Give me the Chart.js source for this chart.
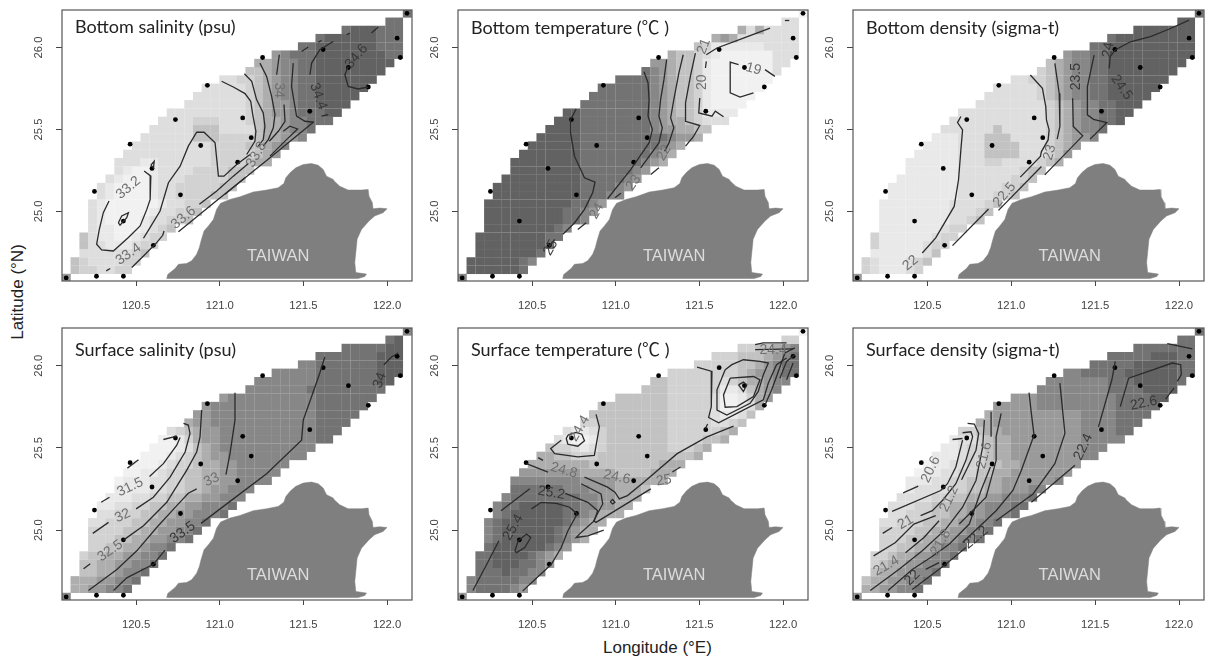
<!DOCTYPE html>
<html>
<head>
<meta charset="utf-8">
<title>Hydrography maps</title>
<script src="https://cdn.jsdelivr.net/npm/chart.js@4/dist/chart.umd.min.js"></script>
<style>
    html, body { margin: 0; padding: 0; background: #fff; }
    body { position: relative; width: 1207px; height: 660px; overflow: hidden; }
    canvas { position: absolute; filter: blur(0.3px); }
    .axisTitle { position: absolute; font: 17px "Liberation Sans", sans-serif; color: #222; white-space: nowrap; }
</style>
</head>
<body>
<div class="axisTitle" style="left:603px; top:638px;">Longitude (°E)</div>
<div class="axisTitle" style="left:18px; top:292px; transform: translate(-50%, -50%) rotate(-90deg);">Latitude (°N)</div>
<script>
const lonTicks = [120.5, 121.0, 121.5, 122.0];
const latTicks = [25.0, 25.5, 26.0];

// interpolation grid of the maps, cell centres
const gridLon = [120.082, 120.134, 120.187, 120.239, 120.291, 120.343, 120.396, 120.448, 120.500, 120.552,
    120.605, 120.657, 120.709, 120.761, 120.814, 120.866, 120.918, 120.970, 121.023, 121.075,
    121.127, 121.179, 121.232, 121.284, 121.336, 121.388, 121.441, 121.493, 121.545, 121.598,
    121.650, 121.702, 121.754, 121.807, 121.859, 121.911, 121.963, 122.016, 122.068, 122.120];
const gridLat = [24.594, 24.644, 24.695, 24.745, 24.796, 24.846, 24.897, 24.947, 24.998, 25.048, 25.099,
    25.149, 25.200, 25.250, 25.301, 25.351, 25.402, 25.452, 25.502, 25.553, 25.603, 25.654,
    25.704, 25.755, 25.805, 25.856, 25.906, 25.957, 26.007, 26.058, 26.108, 26.158, 26.209];
const rowFirstCol = [0, 1, 1, 2, 2, 2, 3, 3, 3, 3, 4, 4, 5, 6, 6, 7, 8, 9, 10, 11, 12, 14, 15, 16, 18, 21, 22, 24, 27, 29, 32, 37, 39];

// shade class of every cell, south to north, 0 light .. 9 dark
const bottomSalinityCells = ["6", "4332233", "43222233", "22222234", "422111233", "4211001233", "2110001234",
    "210000122334", "2100000122334", "21000000122334", "210000122333344", "2100001223333344",
    "2100012223333344", "2100122223333444", "222112222223333455", "222222222233333456",
    "222222222333344567", "2222224443333455667", "2222244422224556778",
    "22223332223455677888", "22222222234566788899", "2222222345667889999", "2222223456778899999",
    "2222234567788999999", "223345677889999999", "4456778899999999", "5567788999999999",
    "678889999999988", "889999999888", "8999999888", "8999888", "88", "8"];
const bottomTemperatureCells = ["7", "9999998", "99999987", "99999998", "999999998", "9999999988", "9999999987",
    "999999999887", "9999999998876", "99999999998876", "999999999988877", "9999999999888876",
    "9999999998888876", "9999999988888876", "999999998888888765", "999999988888888765",
    "999999888888888765", "9999988888888887665", "9999888888887665544", "99988888888765543222",
    "99888888887654431111", "8888888876544310000", "8888888765443100000", "8888887654431000000",
    "888876544310000000", "8765443100000002", "6654431000000022",
    "544321000000222", "431111112222", "5652222222", "5252222", "22", "0"];
const bottomDensityCells = ["6", "3211123", "32111234", "11111124", "311111233", "3111111233", "1111111233",
    "111111112234", "1111111122234", "11111111222234", "111111112222334", "1111111122222334",
    "1111111222222334", "1111112222222344", "111111222332222345", "111112224444222346",
    "111122244442223456", "1112224442222345667", "2222224222223456778", "22222222222345677889",
    "22222222223456778899", "2222222234567788999", "2222223456778899999", "2222234567788999999",
    "223345677889999999", "3456778899999999", "4567788999999999", "677889999999999",
    "889999999999", "8999999999", "9999999", "99", "8"];
const surfaceSalinityCells = ["7", "5566778", "55566778", "44556778", "445566778", "3445566778", "3344556778",
    "333445566778", "3333445566778", "22333445566778", "223334455667778", "1122334455667778",
    "1112233445566777", "1111223344566777", "011122334455667777", "001123344556677777",
    "000123345566777777", "0001234566777777777", "0001245677777777777", "00135667777777777788",
    "23456677777777777888", "5667777777777778888", "6677777777777788888", "6777777777777888888",
    "677777777778888888", "7777777888888888", "7777777888888899", "777778888888999",
    "778888888999", "8888888999", "8888899", "89", "7"];
const surfaceTemperatureCells = ["6", "7888876", "78888877", "88898877", "889998876", "8899998765", "8999999876",
    "789999998765", "7899999987655", "78999999987655", "789999998876555", "7889999988776655",
    "7888888887766555", "8888887776665554", "777777776666555555", "666666655554444555",
    "555555544444444555", "5544333444444444445", "4332123444444433345", "21001344444443333445",
    "21123444444433333345", "3344444444333332234", "4444444443333321124", "4444444433333200125",
    "444444333332001356", "4443333331124567", "4433333323455677", "333333334566788",
    "333334456788", "3334445678", "3344567", "33", "0"];
const surfaceDensityCells = ["6", "5566778", "45566778", "45566778", "345566778", "3345566778", "3344556778",
    "333445566778", "3333445566778", "22333445566778", "223334455667778", "2223344556677788",
    "2222334455667778", "1222233445566677", "111223344556666667", "011223344556666666",
    "011223344556666666", "1112334556666666677", "1123345566666666777", "12234556666666677777",
    "33455666666666777788", "5566666666667777888", "5666666666677778888", "6666677777777788888",
    "666777777777888899", "7777777788889999", "7777777888999998", "778888899999988",
    "888889999988", "8888899988", "8888888", "88", "8"];

const stations = [[120.082, 24.594], [120.263, 24.604], [120.424, 24.604], [120.603, 24.793], [120.424, 24.941],
    [120.251, 25.122], [120.595, 25.262], [120.765, 25.101], [120.464, 25.410], [120.886, 25.402],
    [120.735, 25.560], [120.926, 25.769], [121.107, 25.300], [121.188, 25.450], [121.137, 25.570],
    [121.256, 25.939], [121.538, 25.611], [121.618, 25.988], [121.769, 25.878], [121.888, 25.759],
    [122.060, 26.057], [122.079, 25.939], [122.119, 26.209]];

const taiwanOutline = [[120.683, 24.590], [120.689, 24.615], [120.733, 24.651], [120.753, 24.677], [120.802, 24.682],
    [120.832, 24.698], [120.862, 24.738], [120.878, 24.779], [120.888, 24.819], [120.906, 24.880],
    [120.932, 24.911], [120.962, 24.951], [120.981, 25.012], [121.005, 25.049], [121.061, 25.073],
    [121.121, 25.089], [121.200, 25.118], [121.280, 25.130], [121.349, 25.144], [121.383, 25.170],
    [121.395, 25.205], [121.423, 25.239], [121.455, 25.266], [121.499, 25.286], [121.548, 25.292],
    [121.588, 25.282], [121.618, 25.256], [121.638, 25.215], [121.678, 25.195], [121.684, 25.185],
    [121.717, 25.154], [121.767, 25.130], [121.847, 25.130], [121.887, 25.134], [121.892, 25.093],
    [121.912, 25.053], [121.916, 25.016], [121.956, 25.020], [122.000, 25.016], [121.976, 24.992],
    [121.926, 24.972], [121.892, 24.941], [121.847, 24.890], [121.821, 24.830], [121.813, 24.748],
    [121.807, 24.688], [121.813, 24.627], [121.877, 24.617], [121.867, 24.602], [121.827, 24.590],
    [120.683, 24.590]];
const riverMouth = [[121.383, 25.170], [121.419, 25.164], [121.435, 25.138]];

const bottomSalinityLines = [
    [[120.548, 25.246], [120.588, 25.215], [120.584, 25.073], [120.564, 25.012], [120.524, 24.911], [120.454, 24.840], [120.364, 24.758], [120.294, 24.765], [120.264, 24.799], [120.280, 24.890], [120.304, 24.992], [120.338, 25.063]],
    [[120.394, 24.931], [120.414, 24.972], [120.454, 24.992], [120.444, 24.961], [120.404, 24.915], [120.394, 24.931]],
    [[120.588, 25.282], [120.608, 25.306], [120.604, 25.266], [120.588, 25.282]],
    [[120.544, 24.836], [120.574, 24.886], [120.643, 25.002], [120.693, 25.175], [120.763, 25.276], [120.812, 25.398], [120.862, 25.483], [120.906, 25.483], [120.972, 25.418], [120.982, 25.317], [120.992, 25.215], [121.025, 25.215], [121.101, 25.286], [121.181, 25.347]],
    [[120.321, 24.637], [120.345, 24.651]],
    [[120.474, 24.657], [120.544, 24.728], [120.623, 24.809], [120.659, 24.854], [120.667, 24.880]],
    [[120.753, 24.876], [120.982, 25.067], [121.280, 25.311], [121.559, 25.544]],
    [[120.878, 25.043], [120.982, 25.124], [121.081, 25.215], [121.171, 25.292]],
    [[121.031, 25.104], [121.151, 25.205]],
    [[121.384, 25.652], [121.390, 25.550], [121.350, 25.489], [121.296, 25.428]],
    [[121.380, 25.489], [121.419, 25.520], [121.465, 25.503], [121.399, 25.438], [121.300, 25.337]],
    [[121.011, 25.794], [121.081, 25.759], [121.151, 25.719], [121.185, 25.672], [121.197, 25.591], [121.216, 25.489], [121.210, 25.428], [121.161, 25.347]],
    [[121.147, 25.840], [121.191, 25.794], [121.220, 25.682], [121.260, 25.601], [121.270, 25.520], [121.260, 25.438], [121.230, 25.398]],
    [[121.240, 25.905], [121.280, 25.824], [121.310, 25.702], [121.330, 25.591], [121.320, 25.510], [121.290, 25.438], [121.260, 25.398]],
    [[121.356, 25.956], [121.340, 25.834]],
    [[121.439, 25.905], [121.429, 25.763], [121.449, 25.641], [121.459, 25.581], [121.509, 25.550], [121.563, 25.544]],
    [[121.489, 25.976], [121.529, 26.003]],
    [[121.678, 26.037], [121.598, 25.987], [121.549, 25.905], [121.539, 25.834]],
    [[121.608, 25.581], [121.648, 25.591]],
    [[121.589, 26.033], [121.608, 26.043]],
    [[121.758, 26.078], [121.778, 26.088]],
    [[121.768, 25.885], [121.748, 25.834], [121.768, 25.763], [121.827, 25.747], [121.887, 25.759]],
    [[121.907, 26.088], [121.947, 26.125]]
];
const bottomTemperatureLines = [
    [[120.763, 25.625], [120.730, 25.560], [120.730, 25.479], [120.753, 25.337], [120.813, 25.205], [120.876, 25.179], [120.862, 25.114], [120.813, 25.012], [120.753, 24.929], [120.684, 24.860]],
    [[120.635, 24.829], [120.599, 24.779]],
    [[121.169, 25.852], [121.193, 25.784], [121.199, 25.682], [121.193, 25.581], [121.219, 25.499], [121.199, 25.418], [121.090, 25.256], [120.951, 25.077]],
    [[120.773, 24.890], [120.823, 24.931]],
    [[120.995, 25.083], [121.031, 25.110]],
    [[121.304, 25.926], [121.288, 25.804], [121.268, 25.682], [121.258, 25.581], [121.278, 25.510], [121.258, 25.418], [121.149, 25.266]],
    [[121.403, 25.956], [121.377, 25.844], [121.347, 25.682], [121.328, 25.570], [121.347, 25.510], [121.318, 25.418], [121.292, 25.367]],
    [[121.209, 25.225], [121.258, 25.266]],
    [[121.476, 25.966], [121.446, 25.824], [121.417, 25.662], [121.417, 25.550], [121.502, 25.524], [121.466, 25.459], [121.417, 25.398]],
    [[121.922, 26.119], [121.763, 26.058], [121.605, 25.997], [121.541, 25.956]],
    [[121.541, 25.915], [121.536, 25.875]],
    [[121.502, 25.692], [121.496, 25.601], [121.575, 25.581], [121.595, 25.611], [121.644, 25.577]],
    [[121.734, 25.895], [121.684, 25.911], [121.684, 25.723], [121.743, 25.698], [121.823, 25.723]],
    [[121.892, 25.865], [121.951, 25.824]],
    [[122.011, 26.165], [122.037, 26.165]]
];
const bottomDensityLines = [
    [[120.700, 25.579], [120.680, 25.542], [120.710, 25.497], [120.700, 25.376], [120.686, 25.193], [120.660, 25.030], [120.550, 24.838], [120.470, 24.746]],
    [[120.650, 24.791], [120.865, 25.014]],
    [[120.924, 25.006], [121.180, 25.274]],
    [[121.114, 25.832], [121.186, 25.751], [121.206, 25.639], [121.210, 25.558], [121.226, 25.497], [121.220, 25.436], [121.180, 25.365], [121.174, 25.335], [121.054, 25.209]],
    [[121.260, 25.903], [121.286, 25.721], [121.290, 25.518], [121.274, 25.441]],
    [[121.366, 25.690], [121.370, 25.518], [121.426, 25.461], [121.200, 25.223]],
    [[121.494, 25.954], [121.454, 25.761], [121.454, 25.589], [121.490, 25.562], [121.570, 25.542], [121.470, 25.441]],
    [[122.060, 26.167], [121.950, 26.116], [121.830, 26.066], [121.710, 26.035], [121.620, 25.985], [121.590, 25.944], [121.584, 25.873]]
];
const surfaceSalinityLines = [
    [[120.448, 25.377], [120.514, 25.428]],
    [[120.663, 25.551], [120.743, 25.571]],
    [[120.580, 25.326], [120.663, 25.404], [120.743, 25.516], [120.763, 25.563]],
    [[120.291, 25.169], [120.341, 25.200]],
    [[120.241, 24.980], [120.335, 25.047]],
    [[120.500, 25.129], [120.603, 25.200], [120.703, 25.322], [120.793, 25.475], [120.822, 25.588], [120.812, 25.639], [120.783, 25.649]],
    [[120.186, 24.765], [120.226, 24.796]],
    [[120.424, 24.939], [120.544, 25.027], [120.683, 25.169], [120.802, 25.363], [120.862, 25.475], [120.882, 25.567], [120.892, 25.730]],
    [[120.215, 24.633], [120.385, 24.761], [120.504, 24.874], [120.623, 25.016], [120.743, 25.149], [120.812, 25.224], [120.862, 25.251]],
    [[121.037, 25.337], [121.061, 25.465], [121.091, 25.669], [121.091, 25.836]],
    [[120.365, 24.633], [120.444, 24.710], [120.603, 24.792], [120.673, 24.878]],
    [[120.888, 25.041], [121.081, 25.190], [121.280, 25.343], [121.489, 25.547], [121.499, 25.669], [121.549, 25.812], [121.598, 25.955], [121.628, 26.053]],
    [[121.981, 26.006], [122.026, 26.053], [122.066, 26.077]]
];
const surfaceTemperatureLines = [
    [[120.466, 25.404], [120.595, 25.353]],
    [[120.536, 25.441], [120.565, 25.424]],
    [[120.793, 25.282], [120.912, 25.220], [120.922, 25.159], [120.868, 25.057], [120.882, 25.047], [121.209, 25.251]],
    [[121.338, 25.353], [121.387, 25.384]],
    [[120.813, 25.322], [120.951, 25.261], [120.995, 25.231], [121.021, 25.190], [121.070, 25.210], [121.169, 25.292], [121.367, 25.465], [121.545, 25.567], [121.704, 25.632]],
    [[120.314, 25.118], [120.486, 25.251]],
    [[120.698, 25.224], [120.833, 25.169], [120.892, 25.118], [120.872, 25.057], [120.793, 24.986], [120.763, 24.955], [120.833, 24.965], [120.928, 25.000]],
    [[120.146, 24.633], [120.229, 24.792], [120.302, 24.935]],
    [[120.496, 25.129], [120.555, 25.169], [120.645, 25.163], [120.724, 25.139], [120.769, 25.098], [120.714, 24.996], [120.674, 24.894], [120.615, 24.792], [120.496, 24.680], [120.443, 24.629]],
    [[120.397, 24.874], [120.417, 24.935], [120.466, 24.976], [120.492, 24.955], [120.456, 24.894], [120.407, 24.863], [120.397, 24.874]],
    [[120.714, 25.577], [120.763, 25.594], [120.797, 25.583], [120.813, 25.543], [120.773, 25.510], [120.714, 25.522], [120.704, 25.557], [120.714, 25.577]],
    [[120.882, 25.704], [120.902, 25.628], [120.872, 25.455], [120.773, 25.445], [120.635, 25.465], [120.611, 25.496], [120.674, 25.547]],
    [[121.734, 25.883], [121.763, 25.900], [121.783, 25.883], [121.763, 25.843], [121.734, 25.883]],
    [[121.684, 25.924], [121.823, 25.934], [121.862, 25.914], [121.823, 25.812], [121.724, 25.751], [121.654, 25.747], [121.644, 25.822], [121.684, 25.924]],
    [[121.654, 25.975], [121.694, 26.006], [121.763, 26.036], [121.862, 26.026], [121.912, 26.016], [121.882, 25.945], [121.852, 25.843], [121.803, 25.771], [121.664, 25.700], [121.605, 25.730], [121.605, 25.853], [121.654, 25.975]],
    [[121.486, 25.991], [121.575, 25.965], [121.571, 25.751], [121.555, 25.685], [121.615, 25.653], [121.724, 25.710], [121.882, 25.792], [121.912, 25.894], [121.961, 26.006], [122.021, 26.047]],
    [[121.892, 25.761], [121.932, 25.853], [121.961, 25.934], [122.011, 26.077], [122.070, 26.108]],
    [[121.981, 25.924], [122.021, 26.026], [122.070, 26.067]],
    [[122.021, 25.914], [122.060, 26.016]],
    [[121.833, 26.128], [121.882, 26.138], [122.021, 26.138]],
    [[121.833, 26.098], [122.060, 26.102]],
    [[120.967, 25.173], [120.981, 25.186], [120.995, 25.169], [120.981, 25.159], [120.967, 25.173]],
    [[121.536, 25.618], [121.549, 25.645]]
];
const surfaceDensityLines = [
    [[120.356, 25.226], [120.446, 25.267]],
    [[120.650, 25.551], [120.710, 25.557]],
    [[120.290, 25.114], [120.580, 25.241], [120.620, 25.282], [120.670, 25.384], [120.710, 25.547]],
    [[120.234, 24.980], [120.290, 25.016]],
    [[120.460, 25.088], [120.530, 25.118], [120.590, 25.180], [120.670, 25.282], [120.730, 25.424], [120.770, 25.567], [120.760, 25.598], [120.710, 25.592]],
    [[120.180, 24.843], [120.310, 24.925], [120.420, 25.037], [120.550, 25.088]],
    [[120.370, 24.863], [120.480, 24.955], [120.570, 25.057]],
    [[120.704, 25.306], [120.790, 25.486], [120.806, 25.588], [120.780, 25.645], [120.740, 25.649]],
    [[120.160, 24.633], [120.330, 24.761], [120.470, 24.874], [120.610, 25.006], [120.710, 25.139], [120.790, 25.302], [120.830, 25.506], [120.840, 25.669]],
    [[120.266, 24.633], [120.410, 24.761], [120.520, 24.833], [120.630, 24.914], [120.750, 25.037], [120.820, 25.241], [120.876, 25.384]],
    [[120.880, 25.567], [120.880, 25.720]],
    [[120.490, 24.761], [120.570, 24.802]],
    [[120.690, 25.037], [120.850, 25.200], [120.910, 25.424], [120.910, 25.567], [120.940, 25.710]],
    [[120.710, 24.925], [120.910, 25.118], [121.010, 25.241], [121.060, 25.363], [121.136, 25.577], [121.120, 25.710], [121.106, 25.836]],
    [[120.410, 24.639], [120.610, 24.792], [120.730, 24.894]],
    [[120.910, 25.057], [121.130, 25.220], [121.260, 25.404], [121.320, 25.588], [121.290, 25.894]],
    [[121.120, 25.169], [121.380, 25.394]],
    [[121.520, 25.628], [121.600, 25.914], [121.620, 26.026]],
    [[121.650, 25.751], [121.700, 25.924], [121.960, 26.016], [122.010, 26.006], [122.014, 25.945], [121.990, 25.904]],
    [[121.970, 25.863], [121.920, 25.796]],
    [[121.930, 26.134], [122.080, 26.102]]
];

// contour labels: text, lon, lat, angle
const bottomSalinityLabels = [["33.2", 120.454, 25.144, -40], ["33.4", 120.454, 24.738, -35], ["33.6", 120.783, 24.961, -40], ["33.8", 121.220, 25.347, -60], ["34", 121.356, 25.739, 90], ["34.4", 121.589, 25.702, 70], ["34.6", 121.817, 25.946, -50]];
const bottomTemperatureLabels = [["19", 121.823, 25.869, 15], ["20", 121.516, 25.788, -90], ["21", 121.526, 26.007, -70], ["22", 121.288, 25.357, -60], ["23", 121.106, 25.175, -55], ["24", 120.886, 25.002, -60], ["25", 120.611, 24.779, -60]];
const bottomDensityLabels = [["22", 120.400, 24.685, -40], ["22.5", 120.960, 25.102, -50], ["23", 121.230, 25.359, -75], ["23.5", 121.386, 25.822, -90], ["24", 121.578, 25.985, -80], ["24.5", 121.658, 25.757, 55]];
const surfaceSalinityLabels = [["31.5", 120.464, 25.261, -25], ["32", 120.420, 25.088, -25], ["32.5", 120.345, 24.874, -35], ["33", 120.952, 25.306, -25], ["33.5", 120.779, 24.986, -35], ["34", 121.957, 25.910, -70]];
const surfaceTemperatureLabels = [["24.4", 120.783, 25.618, -60], ["24.8", 120.690, 25.363, 15], ["24.6", 121.007, 25.322, 12], ["25.2", 120.615, 25.226, 10], ["25.4", 120.387, 25.016, -60], ["25", 121.288, 25.302, -10], ["24.4", 121.941, 26.094, 0]];
const surfaceDensityLabels = [["20.6", 120.520, 25.369, -65], ["21", 120.370, 25.047, -30], ["21.2", 120.630, 25.190, -65], ["21.4", 120.256, 24.782, -30], ["21.6", 120.840, 25.455, -75], ["21.8", 120.580, 24.925, -60], ["22", 120.410, 24.710, -45], ["22.2", 120.790, 24.955, -40], ["22.4", 121.430, 25.506, -65], ["22.6", 121.790, 25.771, -12]];

const shadeColors = ["#f1f1f1", "#e9e9e9", "#dedede", "#d2d2d2", "#c2c2c2", "#aeaeae", "#9a9a9a", "#878787", "#737373", "#626262"];
const titleFont = '18px Lato, "Noto Sans CJK SC", sans-serif';
const tickFont = { family: '"Liberation Sans", sans-serif', size: 11.3 };

function toPoints(pairs) {
    return pairs.map((pair) => ({ x: pair[0], y: pair[1] }));
}

function buildCells(rows) {
    const cells = [];
    rows.forEach((row, j) => {
        [...row].forEach((shade, k) => {
            cells.push({ x: gridLon[rowFirstCol[j] + k], y: gridLat[j], shade: Number(shade) });
        });
    });
    return cells;
}

// contour labels read dark on the dark cells and mid grey elsewhere
function labelColor(cells, lon, lat) {
    let nearest = cells[0];
    let best = Infinity;
    cells.forEach((cell) => {
        const dist = (cell.x - lon) ** 2 + (cell.y - lat) ** 2;
        if (dist < best) {
            best = dist;
            nearest = cell;
        }
    });
    return nearest.shade >= 7 ? "#383838" : "#707070";
}

const mapPlugin = {
    id: "mapLayers",
    beforeDatasetsDraw(chart) {
        const { ctx, chartArea, scales } = chart;
        const cellW = scales.x.getPixelForValue(gridLon[1]) - scales.x.getPixelForValue(gridLon[0]);
        const cellH = scales.y.getPixelForValue(gridLat[0]) - scales.y.getPixelForValue(gridLat[1]);
        ctx.save();
        ctx.beginPath();
        ctx.rect(chartArea.left, chartArea.top, chartArea.width, chartArea.height);
        ctx.clip();
        chart.data.datasets[0].data.forEach((cell) => {
            ctx.fillStyle = shadeColors[cell.shade];
            ctx.fillRect(scales.x.getPixelForValue(cell.x) - cellW / 2, scales.y.getPixelForValue(cell.y) - cellH / 2, cellW + 0.25, cellH + 0.25);
        });
        ctx.restore();
    },
    afterDatasetsDraw(chart, args, options) {
        const { ctx, chartArea, scales } = chart;
        const cells = chart.data.datasets[0].data;
        ctx.save();
        ctx.textAlign = "center";
        ctx.textBaseline = "middle";
        options.labels.forEach((label) => {
            ctx.save();
            ctx.translate(scales.x.getPixelForValue(label[1]), scales.y.getPixelForValue(label[2]));
            ctx.rotate(label[3] * Math.PI / 180);
            ctx.font = '14px "Liberation Sans", sans-serif';
            ctx.fillStyle = labelColor(cells, label[1], label[2]);
            ctx.fillText(label[0], 0, 0);
            ctx.restore();
        });
        ctx.font = '16.5px "Liberation Sans", sans-serif';
        ctx.fillStyle = "#dcdcdc";
        ctx.fillText("TAIWAN", scales.x.getPixelForValue(121.349), scales.y.getPixelForValue(24.724));
        ctx.textAlign = "left";
        ctx.font = titleFont;
        ctx.fillStyle = "#222";
        ctx.fillText(options.title, chartArea.left + 13, chartArea.top + options.titleY);
        ctx.strokeStyle = "#555";
        ctx.lineWidth = 1.2;
        ctx.strokeRect(chartArea.left, chartArea.top, chartArea.width, chartArea.height);
        ctx.restore();
    }
};

function renderPanel(panel) {
    const canvas = document.createElement("canvas");
    canvas.width = panel.right - panel.left + 46;
    canvas.height = panel.bottom - panel.top + 42;
    canvas.style.left = `${panel.left - 40}px`;
    canvas.style.top = `${panel.top - 6}px`;
    canvas.style.width = `${canvas.width}px`;
    canvas.style.height = `${canvas.height}px`;
    document.body.appendChild(canvas);

    const lineSets = panel.lines.map((line) => ({
        data: toPoints(line),
        showLine: true,
        borderColor: "#2b2b2b",
        borderWidth: 1.3,
        pointRadius: 0
    }));

    new Chart(canvas, {
        type: "scatter",
        data: {
            datasets: [
                { data: panel.cells, pointRadius: 0, showLine: false },
                { data: toPoints(taiwanOutline), showLine: true, fill: "shape", backgroundColor: "#7f7f7f", borderColor: "#7f7f7f", borderWidth: 0.5, pointRadius: 0 },
                { data: toPoints(riverMouth), showLine: true, borderColor: "#f4f4f4", borderWidth: 1.2, pointRadius: 0 },
                ...lineSets,
                { data: toPoints(stations), pointRadius: 2.4, pointBackgroundColor: "#000", pointBorderWidth: 0 }
            ]
        },
        options: {
            responsive: false,
            animation: false,
            events: [],
            layout: { padding: { top: 6, right: 6, left: 0, bottom: 0 } },
            plugins: {
                legend: { display: false },
                tooltip: { enabled: false },
                mapLayers: { labels: panel.labels, title: panel.title, titleY: panel.titleY }
            },
            scales: {
                x: {
                    type: "linear",
                    min: 120.057,
                    max: 122.149,
                    afterBuildTicks: (scale) => { scale.ticks = lonTicks.map((value) => ({ value })); },
                    afterFit: (scale) => { scale.height = 36; scale.paddingLeft = 0; scale.paddingRight = 0; },
                    grid: { drawOnChartArea: false, tickLength: 5, color: "#444" },
                    border: { display: false },
                    ticks: { autoSkip: false, maxRotation: 0, padding: 13, color: "#444", font: tickFont, callback: (value) => value.toFixed(1) }
                },
                y: {
                    min: 24.575,
                    max: 26.229,
                    afterBuildTicks: (scale) => { scale.ticks = latTicks.map((value) => ({ value })); },
                    afterFit: (scale) => { scale.width = 40; scale.paddingTop = 0; scale.paddingBottom = 0; },
                    grid: { drawOnChartArea: false, tickLength: 6, color: "#444" },
                    border: { display: false },
                    ticks: { autoSkip: false, minRotation: 90, maxRotation: 90, crossAlign: "center", padding: 6, color: "#444", font: tickFont, callback: (value) => value.toFixed(1) }
                }
            }
        },
        plugins: [mapPlugin]
    });
}

const panels = [
    { title: "Bottom salinity (psu)", left: 62, right: 412, top: 10, bottom: 281, titleY: 17, rows: bottomSalinityCells, lines: bottomSalinityLines, labels: bottomSalinityLabels },
    { title: "Bottom temperature (℃ )", left: 458, right: 808, top: 10, bottom: 281, titleY: 18, rows: bottomTemperatureCells, lines: bottomTemperatureLines, labels: bottomTemperatureLabels },
    { title: "Bottom density (sigma-t)", left: 853, right: 1204, top: 10, bottom: 281, titleY: 18, rows: bottomDensityCells, lines: bottomDensityLines, labels: bottomDensityLabels },
    { title: "Surface salinity (psu)", left: 62, right: 412, top: 328, bottom: 600, titleY: 22, rows: surfaceSalinityCells, lines: surfaceSalinityLines, labels: surfaceSalinityLabels },
    { title: "Surface temperature (℃ )", left: 458, right: 808, top: 328, bottom: 600, titleY: 22, rows: surfaceTemperatureCells, lines: surfaceTemperatureLines, labels: surfaceTemperatureLabels },
    { title: "Surface density (sigma-t)", left: 853, right: 1204, top: 328, bottom: 600, titleY: 22, rows: surfaceDensityCells, lines: surfaceDensityLines, labels: surfaceDensityLabels }
];

panels.forEach((panel) => {
    panel.cells = buildCells(panel.rows);
    renderPanel(panel);
});
</script>
</body>
</html>
